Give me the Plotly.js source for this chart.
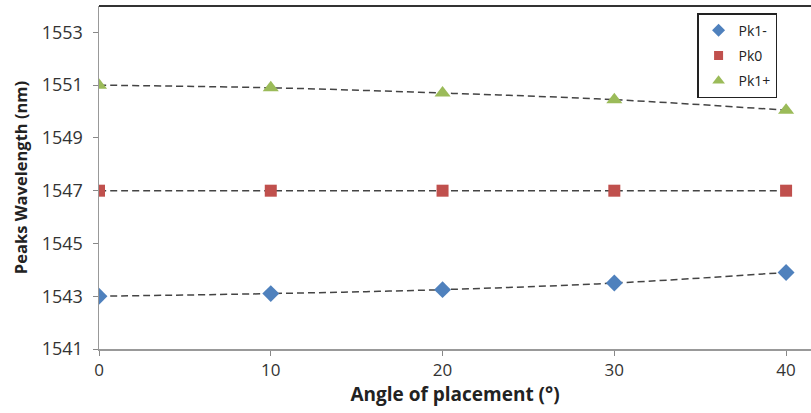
<!DOCTYPE html>
<html><head><meta charset="utf-8">
<script src="https://cdn.plot.ly/plotly-3.0.1.min.js"></script>
<style>body{margin:0;padding:0;background:#fff}#c{width:811px;height:413px}</style>
</head><body><div id="c"></div>
<script>
const angles = [0, 10, 20, 30, 40];
const pk1minus = [1543.0, 1543.1, 1543.25, 1543.5, 1543.9];
const pk0 = [1547, 1547, 1547, 1547, 1547];
const pk1plus = [1551.0, 1550.9, 1550.7, 1550.45, 1550.05];
const yTicks = [1541, 1543, 1545, 1547, 1549, 1551, 1553];
const xTicks = [0, 10, 20, 30, 40];
const names = ['Pk1-', 'Pk0', 'Pk1+'];
const symbols = ['diamond', 'square', 'triangle-up'];
const colors = ['#4F81BD', '#C0504D', '#9BBB59'];
const sizes = [13, 12, 14];
const series = [pk1minus, pk0, pk1plus];

const font = "'Open Sans', sans-serif";
const data = [];
series.forEach((y, i) => {
  data.push({x: angles, y: y, name: names[i], type: 'scatter', mode: 'lines+markers', showlegend: false,
    line: {color: '#444', width: 1.5, dash: '7px,4px', shape: 'spline'},
    marker: {symbol: symbols[i], color: colors[i], size: sizes[i]}});
});
series.forEach((y, i) => {
  data.push({x: [null], y: [null], name: names[i], type: 'scatter', mode: 'markers', legendgroup: 'g' + i,
    marker: {symbol: symbols[i], color: colors[i], size: sizes[i] - 3}});
});
const layout = {
  width: 811, height: 413,
  margin: {l: 99, r: 0, t: 6, b: 64},
  paper_bgcolor: '#fff', plot_bgcolor: '#fff',
  font: {family: font, color: '#222'},
  xaxis: {range: [0, 41.45], tickvals: xTicks, ticks: 'outside', ticklen: 5, tickcolor: '#888',
    showline: true, linecolor: '#999', linewidth: 1.5, showgrid: false, zeroline: false,
    tickfont: {size: 17, color: '#333'},
    title: {text: '<b>Angle of placement (°)</b>', font: {size: 19, color: '#222'}, standoff: 4}},
  yaxis: {range: [1541, 1554], tickvals: yTicks, ticks: 'outside', ticklen: 5, tickcolor: '#888',
    showline: true, linecolor: '#999', linewidth: 1.5, showgrid: false, zeroline: false,
    ticklabelstandoff: 6,
    tickfont: {size: 18, color: '#333'},
    title: {text: '<b>Peaks Wavelength (nm)</b>', font: {size: 16.5, color: '#222'}, standoff: 10}},
  legend: {x: 0.84, y: 0.979, xanchor: 'left', yanchor: 'top',
    bordercolor: '#222', borderwidth: 1.5, bgcolor: '#fff',
    font: {size: 14, color: '#222'}, itemwidth: 30, tracegroupgap: 4},
  showlegend: true,
  shapes: [{type: 'line', xref: 'paper', yref: 'paper', x0: 0, x1: 1, y0: 1, y1: 1,
    line: {color: '#333', width: 2}}]
};
Plotly.newPlot('c', data, layout, {displayModeBar: false, staticPlot: true});
</script></body></html>
